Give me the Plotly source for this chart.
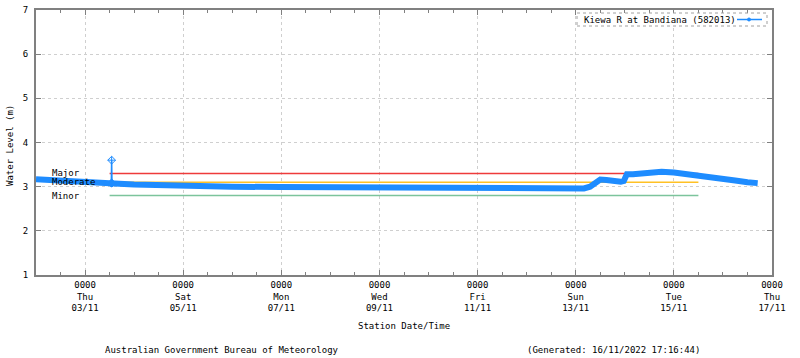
import plotly.graph_objects as go

# ---- data ----
times = [
    "2022-11-02 00:00", "2022-11-02 12:00", "2022-11-03 00:00", "2022-11-03 12:00",
    "2022-11-04 00:00", "2022-11-04 12:00", "2022-11-05 00:00", "2022-11-05 12:00",
    "2022-11-06 00:00", "2022-11-07 00:00", "2022-11-08 00:00", "2022-11-09 00:00",
    "2022-11-10 00:00", "2022-11-11 00:00", "2022-11-12 00:00", "2022-11-13 00:00",
    "2022-11-13 04:00", "2022-11-13 07:00", "2022-11-13 10:00", "2022-11-13 12:00",
    "2022-11-13 15:00", "2022-11-13 19:00", "2022-11-13 22:00", "2022-11-13 23:30",
    "2022-11-14 01:00", "2022-11-14 04:00", "2022-11-14 08:00", "2022-11-14 12:00",
    "2022-11-14 18:00", "2022-11-15 00:00", "2022-11-15 06:00", "2022-11-15 12:00",
    "2022-11-15 18:00", "2022-11-16 00:00", "2022-11-16 06:00", "2022-11-16 12:00",
    "2022-11-16 17:00",
]
levels = [
    3.17, 3.15, 3.11, 3.08,
    3.05, 3.03, 3.02, 3.01,
    3.00, 2.99, 2.98, 2.97,
    2.96, 2.96, 2.95, 2.95,
    2.96, 3.00, 3.12, 3.16,
    3.15, 3.12, 3.11, 3.13,
    3.28, 3.28, 3.30, 3.34,
    3.34, 3.32, 3.29, 3.26,
    3.22, 3.18, 3.14, 3.10,
    3.08,
]
spike_times = ["2022-11-03 12:50", "2022-11-03 13:00", "2022-11-03 13:10"]
spike_levels = [3.08, 3.60, 3.08]

flood_names = ["Major", "Moderate", "Minor"]
flood_levels = [3.3, 3.1, 2.8]
flood_colors = ["#ee3b3b", "#ffc125", "#7cc49c"]
flood_span = ["2022-11-03 12:00", "2022-11-15 12:00"]

tick_dates = ["2022-11-03", "2022-11-05", "2022-11-07", "2022-11-09",
              "2022-11-11", "2022-11-13", "2022-11-15", "2022-11-17"]
tick_labels = ["0000<br>Thu<br>03/11", "0000<br>Sat<br>05/11", "0000<br>Mon<br>07/11",
               "0000<br>Wed<br>09/11", "0000<br>Fri<br>11/11", "0000<br>Sun<br>13/11",
               "0000<br>Tue<br>15/11", "0000<br>Thu<br>17/11"]
x_range = ["2022-11-02 00:00", "2022-11-17 00:00"]
y_range = [1, 7]
series_name = "Kiewa R at Bandiana (582013)"

FONT = "DejaVu Sans Mono"
BLUE = "#1e8cff"
AXC = "#808080"
GRID = "#cfcfcf"

W, H = 800, 358
ML, MR, MT, MB = 36, 28, 10, 83
PW, PH = W - ML - MR, H - MT - MB


def px(x):  # pixel x -> paper x
    return (x - ML) / PW


def py(y):  # pixel y -> paper y
    return 1 - (y - MT) / PH


fig = go.Figure()

for name, lvl, col in zip(flood_names, flood_levels, flood_colors):
    fig.add_trace(go.Scatter(x=flood_span, y=[lvl, lvl], mode="lines",
                             line=dict(color=col, width=1.5), showlegend=False,
                             hoverinfo="skip"))

fig.add_trace(go.Scatter(x=spike_times, y=spike_levels, mode="lines+markers",
                         name=series_name, line=dict(color=BLUE, width=1.5),
                         marker=dict(symbol="diamond-cross-open", size=6,
                                     color=BLUE, line=dict(width=1, color=BLUE)),
                         showlegend=False))

fig.add_trace(go.Scatter(x=times, y=levels, mode="lines", name=series_name,
                         line=dict(color=BLUE, width=6, shape="linear"),
                         showlegend=False))

for name, lvl in zip(flood_names, flood_levels):
    fig.add_annotation(x=0.019, xref="paper", y=lvl, yref="y", text=name,
                       showarrow=False, xanchor="left", yanchor="middle",
                       font=dict(family=FONT, size=9, color="black"))

txt = dict(family=FONT, size=9, color="black")
fig.add_annotation(x=0.5, xref="paper", y=py(326), yref="paper",
                   text="Station Date/Time", showarrow=False,
                   xanchor="center", yanchor="middle", font=txt)
fig.add_annotation(x=px(10), xref="paper", y=py(146), yref="paper",
                   text="Water Level (m)", showarrow=False, textangle=-90,
                   xanchor="center", yanchor="middle", font=txt)
fig.add_annotation(x=px(221.5), xref="paper", y=py(350), yref="paper",
                   text="Australian Government Bureau of Meteorology", showarrow=False,
                   xanchor="center", yanchor="middle", font=txt)
fig.add_annotation(x=px(613), xref="paper", y=py(350), yref="paper",
                   text="(Generated: 16/11/2022 17:16:44)", showarrow=False,
                   xanchor="center", yanchor="middle", font=txt)

# legend box drawn like the reference (text left, sample right, dotted frame)
fig.add_shape(type="rect", xref="paper", yref="paper",
              x0=px(577), x1=px(767), y0=py(26), y1=py(13),
              line=dict(color="#a0a0a0", width=1, dash="dot"),
              fillcolor="white", layer="above")
fig.add_annotation(x=px(582), xref="paper", y=py(19.5), yref="paper",
                   text=series_name, showarrow=False,
                   xanchor="left", yanchor="middle", font=txt)
fig.add_shape(type="line", xref="paper", yref="paper",
              x0=px(737), x1=px(762), y0=py(19.5), y1=py(19.5),
              line=dict(color=BLUE, width=1.5), layer="above")
fig.add_shape(type="circle", xref="paper", yref="paper",
              x0=px(747.5), x1=px(750.5), y0=py(21), y1=py(18),
              line=dict(color=BLUE, width=1), fillcolor=BLUE, layer="above")

fig.update_layout(
    width=W, height=H,
    margin=dict(l=ML, r=MR, t=MT, b=MB, autoexpand=False),
    paper_bgcolor="white", plot_bgcolor="white",
    font=dict(family=FONT, size=9, color="black"),
    showlegend=False,
    xaxis=dict(
        type="date", range=x_range,
        tickmode="array", tickvals=tick_dates, ticktext=tick_labels,
        ticks="inside", ticklen=5, tickcolor=AXC, tickwidth=1,
        minor=dict(dtick=12 * 3600 * 1000, ticks="inside", ticklen=3,
                   tickcolor=AXC, showgrid=False),
        showline=True, linecolor=AXC, linewidth=2, mirror="ticks",
        showgrid=True, gridcolor=GRID, griddash="dot", gridwidth=1,
        zeroline=False, automargin=False,
        tickfont=dict(family=FONT, size=9, color="black"),
    ),
    yaxis=dict(
        range=y_range, dtick=1, tick0=1,
        ticks="inside", ticklen=5, tickcolor=AXC, tickwidth=1,
        showline=True, linecolor=AXC, linewidth=2, mirror="ticks",
        showgrid=True, gridcolor=GRID, griddash="dot", gridwidth=1,
        zeroline=False, ticklabelstandoff=4, automargin=False,
        tickfont=dict(family=FONT, size=9, color="black"),
    ),
)

fig.write_html("out.html", config={"displayModeBar": False},
               post_script="document.body.style.margin='0';")
